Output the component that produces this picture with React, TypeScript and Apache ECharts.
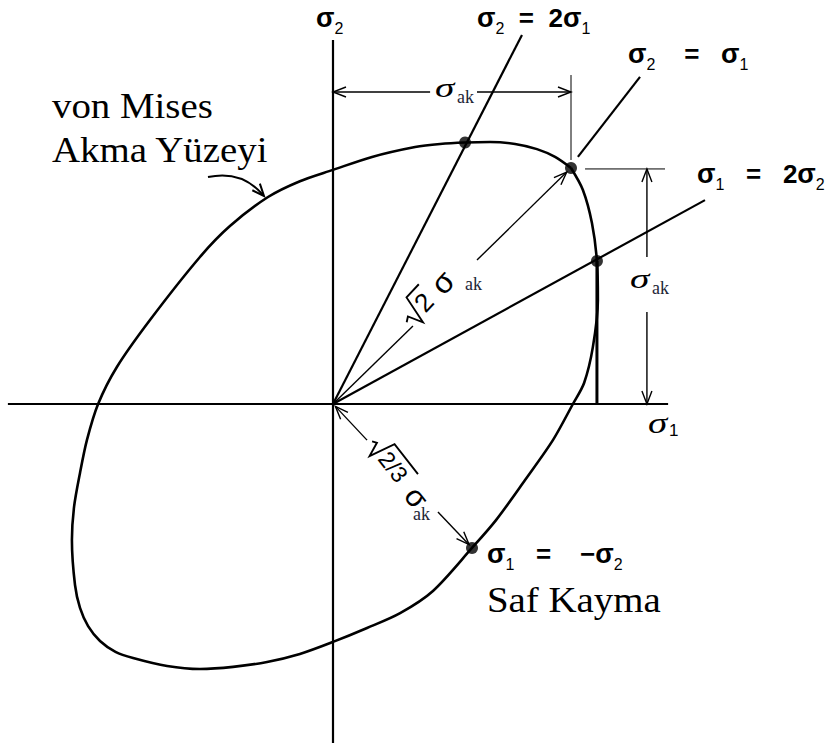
import React, { useEffect, useRef } from "react";
import * as echarts from "echarts";

const WIDTH = 831;
const HEIGHT = 748;
// where σ1 = σ2 = 0 sits, and how many pixels one σ_ak spans on each axis
const ORIGIN_X = 333;
const ORIGIN_Y = 404;
const PX_PER_UNIT_X = 238;
const PX_PER_UNIT_Y = 236;

const SANS = "'Liberation Sans', Arial, sans-serif";
const SERIF = "'Liberation Serif', 'Times New Roman', serif";

// von Mises yield locus in σ/σ_ak, traced clockwise from the equibiaxial corner
const locusSigma1 = [
  1.0, 1.05, 1.088, 1.109, 1.113, 1.092, 1.055, 1.008, 0.924, 0.807, 0.685, 0.584,
  0.42, 0.282, 0.143, 0.0, -0.139, -0.277, -0.42, -0.559, -0.697, -0.84, -0.914,
  -0.979, -1.029, -1.063, -1.084, -1.097, -1.088, -1.063, -1.034, -0.987, -0.908,
  -0.769, -0.559, -0.433, -0.273, -0.139, 0.0, 0.164, 0.345, 0.45, 0.555, 0.66,
  0.765, 0.857, 0.933, 1.0,
];
const locusSigma2 = [
  1.0, 0.907, 0.767, 0.606, 0.441, 0.242, 0.089, 0.0, -0.153, -0.322, -0.492, -0.61,
  -0.792, -0.886, -0.949, -1.008, -1.059, -1.093, -1.114, -1.123, -1.11, -1.076, -1.05,
  -1.004, -0.941, -0.864, -0.767, -0.576, -0.436, -0.292, -0.153, 0.0, 0.157,
  0.356, 0.623, 0.754, 0.877, 0.944, 0.992, 1.047, 1.089, 1.102, 1.108, 1.11,
  1.102, 1.08, 1.047, 1.0,
];

// loading states marked on the locus: σ2 = 2σ1, σ2 = σ1, σ1 = 2σ2, σ1 = −σ2
const stateSigma1 = [0.555, 1.0, 1.109, 0.584];
const stateSigma2 = [1.108, 1.0, 0.606, -0.61];

// segments: [σ1 start, σ2 start, σ1 end, σ2 end, arrow at start, arrow at end]
const axisSegments = [
  [-1.366, 0, 1.408, 0, 0, 0],
  [0, -1.436, 0, 1.542, 0, 0],
];
const raySegments = [
  [0, 0, 0.794, 1.564, 0, 0],
  [0, 0, 1.563, 0.864, 0, 0],
  [1.029, 1.047, 1.29, 1.386, 0, 0],
];
const dimensionSegments = [
  [0, 1.322, 0.408, 1.322, 1, 0],
  [0.605, 1.322, 1.0, 1.322, 0, 1],
  [1.319, 0.996, 1.319, 0.623, 1, 0],
  [1.319, 0.39, 1.319, 0.0, 0, 1],
  [0, 0, 0.336, 0.331, 0, 0],
  [0.605, 0.61, 0.982, 0.983, 0, 1],
  [0.143, -0.153, 0.01, -0.01, 0, 1],
  [0.441, -0.458, 0.572, -0.596, 0, 1],
];
const extensionSegments = [
  [1.0, 1.394, 1.0, 1.034, 0, 0],
  [1.059, 0.996, 1.395, 0.996, 0, 0],
];
const tresca = [[1.109, 0.606, 1.109, 0.0, 0, 0]];

function arrowHead(tip: number[], from: number[], len: number, half: number) {
  const dx = tip[0] - from[0];
  const dy = tip[1] - from[1];
  const d = Math.hypot(dx, dy) || 1;
  const ux = dx / d;
  const uy = dy / d;
  const bx = tip[0] - ux * len;
  const by = tip[1] - uy * len;
  return [
    [bx - uy * half, by + ux * half],
    [tip[0], tip[1]],
    [bx + uy * half, by - ux * half],
  ];
}

function segmentSeries(data: number[][], lineWidth: number, head: number[] = [13, 5]) {
  return {
    type: "custom",
    coordinateSystem: "cartesian2d",
    data,
    silent: true,
    clip: false,
    renderItem: (_params: any, api: any) => {
      const a = api.coord([api.value(0), api.value(1)]);
      const b = api.coord([api.value(2), api.value(3)]);
      const children: any[] = [
        {
          type: "line",
          shape: { x1: a[0], y1: a[1], x2: b[0], y2: b[1] },
          style: { stroke: "#000", lineWidth },
        },
      ];
      if (api.value(4)) {
        children.push({
          type: "polyline",
          shape: { points: arrowHead(a, b, head[0], head[1]) },
          style: { stroke: "#000", fill: "none", lineWidth },
        });
      }
      if (api.value(5)) {
        children.push({
          type: "polyline",
          shape: { points: arrowHead(b, a, head[0], head[1]) },
          style: { stroke: "#000", fill: "none", lineWidth },
        });
      }
      return { type: "group", children };
    },
  };
}

const mathRich = {
  s: { fontFamily: SANS, fontWeight: "bold", fontSize: 27, lineHeight: 36, fill: "#000" },
  n: { fontFamily: SANS, fontWeight: "bold", fontSize: 26, lineHeight: 36, fill: "#000" },
  b: { fontFamily: SANS, fontSize: 16, lineHeight: 14, verticalAlign: "bottom", fill: "#000" },
};

function mathText(x: number, y: number, text: string) {
  return {
    type: "text",
    x,
    y,
    silent: true,
    style: { text, rich: mathRich, fill: "#000", align: "left", verticalAlign: "top" },
  };
}

function serifText(x: number, y: number, text: string, size = 36, scaleX = 1.08) {
  return {
    type: "text",
    x,
    y,
    scaleX,
    silent: true,
    style: {
      text,
      fontFamily: SERIF,
      fontSize: size,
      fill: "#000",
      align: "left",
      verticalAlign: "middle",
    },
  };
}

function akText(x: number, y: number) {
  return {
    type: "text",
    x,
    y,
    silent: true,
    style: {
      text: "ak",
      fontFamily: SERIF,
      fontSize: 18,
      fill: "#1d2636",
      align: "left",
      verticalAlign: "middle",
    },
  };
}

// italic σ with an "ak" subscript
function sigmaAk(x: number, y: number) {
  return [
    {
      type: "text",
      x,
      y,
      scaleX: 1.4,
      silent: true,
      style: {
        text: "σ",
        fontFamily: SERIF,
        fontStyle: "italic",
        fontSize: 28,
        fill: "#000",
        align: "left",
        verticalAlign: "middle",
      },
    },
    akText(x + 22, y + 9),
  ];
}

function plainSans(x: number, y: number, text: string, size: number) {
  return {
    type: "text",
    x,
    y,
    silent: true,
    style: {
      text,
      fontFamily: SANS,
      fontSize: size,
      fill: "#000",
      align: "left",
      verticalAlign: "middle",
    },
  };
}

function buildGraphic() {
  const els: any[] = [];
  // axis names and loading-path names
  els.push(mathText(316, 0, "{s|σ}{b|2}"));
  els.push(mathText(477, 0, "{s|σ}{b|2}{n|  =  2}{s|σ}{b|1}"));
  els.push(mathText(628, 36, "{s|σ}{b|2}{n|    =   }{s|σ}{b|1}"));
  els.push(mathText(697, 156, "{s|σ}{b|1}{n|   =   2}{s|σ}{b|2}"));
  els.push(mathText(487, 536, "{s|σ}{b|1}{n|   =    −}{s|σ}{b|2}"));

  // σ1 axis name
  els.push({
    type: "text",
    x: 648,
    y: 423,
    scaleX: 1.3,
    silent: true,
    style: {
      text: "σ",
      fontFamily: SERIF,
      fontStyle: "italic",
      fontSize: 30,
      fill: "#000",
      verticalAlign: "middle",
    },
  });
  els.push(plainSans(669, 430, "1", 17));

  // captions
  els.push(serifText(52, 106, "von Mises"));
  els.push(serifText(52, 150, "Akma Yüzeyi"));
  els.push(serifText(487, 600, "Saf Kayma"));

  // pointer from caption to the locus
  els.push({
    type: "bezierCurve",
    silent: true,
    shape: { x1: 208, y1: 177, cpx1: 242, cpy1: 170, x2: 263, y2: 195 },
    style: { stroke: "#000", fill: "none", lineWidth: 2 },
  });
  els.push({
    type: "polyline",
    silent: true,
    shape: { points: arrowHead([264, 196], [250, 180], 12, 5) },
    style: { stroke: "#000", fill: "none", lineWidth: 2 },
  });

  // σ_ak dimension labels
  els.push(...sigmaAk(435, 88));
  els.push(...sigmaAk(630, 279));

  // √2 σ_ak along the equibiaxial path
  els.push({
    type: "group",
    x: 414,
    y: 329,
    rotation: (47 * Math.PI) / 180,
    silent: true,
    children: [
      {
        type: "polyline",
        shape: { points: [[0, -10], [5, -13], [11, 2], [18, -27], [36, -27]] },
        style: { stroke: "#000", fill: "none", lineWidth: 1.9 },
      },
      plainSans(19, -11, "2", 26),
      plainSans(44, -11, "σ", 31),
    ],
  });
  els.push(akText(465, 284));

  // √(2/3) σ_ak along the pure-shear path
  els.push({
    type: "group",
    x: 365,
    y: 447,
    rotation: (-52 * Math.PI) / 180,
    silent: true,
    children: [
      {
        type: "polyline",
        shape: { points: [[0, -9], [4, -12], [10, 2], [16, -25], [54, -25]] },
        style: { stroke: "#000", fill: "none", lineWidth: 1.9 },
      },
      plainSans(17, -10, "2/3", 23),
      plainSans(62, -10, "σ", 30),
    ],
  });
  els.push(akText(413, 514));

  return els;
}

export default function App() {
  const ref = useRef<HTMLDivElement>(null);

  useEffect(() => {
    if (!ref.current) return;
    const chart = echarts.init(ref.current, null, { renderer: "svg" });
    const locus = locusSigma1.map((s1, i) => [s1, locusSigma2[i]]);
    const states = stateSigma1.map((s1, i) => [s1, stateSigma2[i]]);

    chart.setOption({
      animation: false,
      backgroundColor: "#fff",
      grid: { left: 0, right: 0, top: 0, bottom: 0 },
      xAxis: {
        type: "value",
        min: -ORIGIN_X / PX_PER_UNIT_X,
        max: (WIDTH - ORIGIN_X) / PX_PER_UNIT_X,
        show: false,
      },
      yAxis: {
        type: "value",
        min: -(HEIGHT - ORIGIN_Y) / PX_PER_UNIT_Y,
        max: ORIGIN_Y / PX_PER_UNIT_Y,
        show: false,
      },
      series: [
        segmentSeries(axisSegments, 2.2),
        segmentSeries(raySegments, 2.2),
        segmentSeries(extensionSegments, 1),
        segmentSeries(dimensionSegments, 1.4, [13, 5]),
        segmentSeries(tresca, 3),
        {
          type: "line",
          data: locus,
          smooth: 0.3,
          symbol: "none",
          silent: true,
          lineStyle: { color: "#000", width: 2.6 },
        },
        {
          type: "scatter",
          data: states,
          symbol: "circle",
          symbolSize: 12,
          silent: true,
          itemStyle: { color: "#000" },
        },
      ],
      graphic: buildGraphic(),
    });

    return () => chart.dispose();
  }, []);

  return (
    <div
      ref={ref}
      style={{ position: "absolute", left: 0, top: 0, width: WIDTH, height: HEIGHT, background: "#fff" }}
    />
  );
}
